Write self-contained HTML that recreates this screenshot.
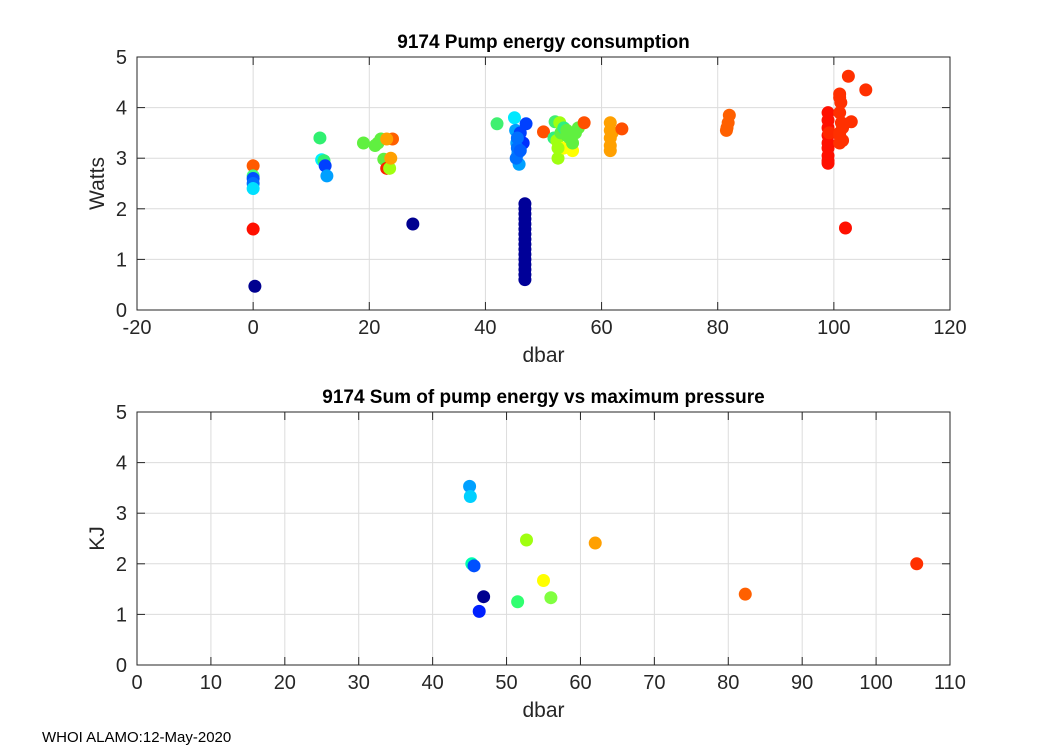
<!DOCTYPE html>
<html><head><meta charset="utf-8"><style>
body{margin:0;background:#fff;width:1050px;height:750px;overflow:hidden;font-family:"Liberation Sans",sans-serif}
svg text{font-family:"Liberation Sans",sans-serif}
</style></head><body>
<svg id="s" width="1050" height="750">
<text x="42" y="742" font-size="15">WHOI ALAMO:12-May-2020</text>
</svg>
<script>
// Top chart data
const topX = [0,0,0,0,0,0,0.3,11.5,11.8,12.2,12.4,12.7,19,21,21.5,22,22.5,23,23.5,24,23,23.7,27.5,42,45,45.2,45.4,45.6,45.8,45.3,46,46.5,47,45.5,45.5,46,50,52,51.8,52.3,52.5,52.8,53,53.5,54,54.5,55,55.5,56,57,52.5,53.5,55,54,61.5,61.5,61.5,61.5,61.5,61.8,63.5,81.5,81.8,82,81.6,99,99,99,99,99,99,99,99,99,99.2,101,101.2,101,101.3,101,101.5,101,101,102.5,105.5,103,102,101.5,101];
const topY = [2.85,2.65,2.6,2.5,2.4,1.6,0.47,3.4,2.97,2.95,2.85,2.65,3.3,3.25,3.3,3.38,2.98,2.8,2.8,3.38,3.38,3.0,1.7,3.68,3.8,3.55,3.3,3.1,2.88,3.0,3.5,3.3,3.68,3.4,3.2,3.15,3.52,3.72,3.4,3.35,3.0,3.7,3.5,3.2,3.45,3.4,3.15,3.5,3.6,3.7,3.2,3.6,3.3,3.55,3.7,3.55,3.4,3.25,3.15,3.5,3.58,3.55,3.7,3.85,3.6,3.9,3.75,3.6,3.45,3.3,3.2,3.05,2.95,2.9,3.5,4.2,4.1,3.9,3.7,3.5,3.35,3.3,4.27,4.62,4.35,3.72,1.62,3.6,3.45];
const topC = ["#ff5a00","#40ff80","#0050ff","#0070ff","#00e0ff","#ff1000","#000090","#30f070","#00f0ff","#30f070","#0040ff","#00a0ff","#60f040","#60f040","#60f040","#60f040","#60f040","#ff2000","#a0ff10","#ff6000","#ffa000","#ffa000","#000090","#40f070","#00e8ff","#00a0ff","#00a0ff","#00a0ff","#00a0ff","#0070ff","#0040ff","#0030ff","#0040ff","#0070ff","#0070ff","#0060ff","#ff5000","#40f070","#30f080","#a0ff10","#a0ff10","#a0ff10","#60f040","#ffff00","#60f040","#60f040","#ffff00","#60f040","#60f040","#ff5000","#a0ff10","#30f080","#60f040","#60f040","#ffa000","#ffa000","#ffa000","#ffa000","#ffa000","#ffa000","#ff5000","#ff6000","#ff6000","#ff6000","#ff6000","#ff1000","#ff1000","#ff1000","#ff1000","#ff1000","#ff1000","#ff1000","#ff1000","#ff1000","#ff2800","#ff3000","#ff3000","#ff3000","#ff3000","#ff3000","#ff3000","#ff3000","#ff3000","#ff3000","#ff3000","#ff3000","#ff1000","#ff3000","#ff3000"];
const navyY = [2.1,2.0,1.9,1.8,1.7,1.6,1.5,1.4,1.3,1.2,1.1,1.0,0.9,0.8,0.7,0.6];
const navyX = 46.8;
// Bottom chart data
const botX = [45,45.1,45.3,45.6,46.9,46.3,51.5,52.7,55,56,62,82.3,105.5];
const botY = [3.53,3.33,2.0,1.96,1.35,1.06,1.25,2.47,1.67,1.33,2.41,1.4,2.0];
const botC = ["#00a0ff","#00d0ff","#00ffb0","#0050ff","#000090","#0020ff","#30ff70","#a0ff10","#ffff00","#80ff40","#ffa000","#ff6000","#ff3000"];
const topTicksX = [-20,0,20,40,60,80,100,120];
const botTicksX = [0,10,20,30,40,50,60,70,80,90,100,110];
const ticksY = [0,1,2,3,4,5];

const S=document.getElementById('s'), NS='http://www.w3.org/2000/svg';
function mk(t,a,p){const e=document.createElementNS(NS,t);for(const k in a)e.setAttribute(k,a[k]);(p||S).appendChild(e);return e;}
function axes(cfg){
  const {L,R,T,B,xmin,xmax,xt,title,ylab,name}=cfg;
  const g=mk('g',{});
  
  
  const sx=v=>L+(v-xmin)/(xmax-xmin)*(R-L), sy=v=>B-v/5*(B-T);
  for(const v of xt){const x=sx(v);
    const gl=mk('line',{x1:x,x2:x,y1:T,y2:B,stroke:'#dcdcdc'},g);
    
    
    mk('line',{x1:x,x2:x,y1:B,y2:B-8,stroke:'#262626'},g);mk('line',{x1:x,x2:x,y1:T,y2:T+8,stroke:'#262626'},g);
    const t=mk('text',{x:x,y:B+24,'font-size':20,'text-anchor':'middle',fill:'#262626'},g);t.textContent=v;
    
    }
  for(const v of ticksY){const y=sy(v);
    const gl=mk('line',{x1:L,x2:R,y1:y,y2:y,stroke:'#dcdcdc'},g);
    
    
    mk('line',{x1:L,x2:L+8,y1:y,y2:y,stroke:'#262626'},g);mk('line',{x1:R,x2:R-8,y1:y,y2:y,stroke:'#262626'},g);
    const t=mk('text',{x:L-10,y:y+7,'font-size':20,'text-anchor':'end',fill:'#262626'},g);t.textContent=v;
    
    }
  const tt=mk('text',{x:(L+R)/2,y:T-9,'font-size':19,'font-weight':'bold','text-anchor':'middle',fill:'#000'},g);tt.textContent=title;
  
  
  const xl=mk('text',{x:(L+R)/2,y:B+52,'font-size':21,'text-anchor':'middle',fill:'#262626'},g);xl.textContent='dbar';
  
  
  const yl=mk('text',{x:0,y:0,'font-size':21,'text-anchor':'middle',fill:'#262626',transform:`translate(${L-33},${(T+B)/2}) rotate(-90)`},g);yl.textContent=ylab;
  
  
  return {g,sx,sy,box:()=>mk('rect',{x:L,y:T,width:R-L,height:B-T,fill:'none',stroke:'#262626'},g)};
}
const A=axes({L:137,R:950,T:57,B:310,xmin:-20,xmax:120,xt:topTicksX,title:'9174 Pump energy consumption',ylab:'Watts',name:'top-chart'});
for(let i=0;i<topX.length;i++){const c=mk('circle',{cx:A.sx(topX[i]),cy:A.sy(topY[i]),r:6.5,fill:topC[i]},A.g);
  
  }
for(const v of navyY){const c=mk('circle',{cx:A.sx(navyX),cy:A.sy(v),r:6.5,fill:'#000098'},A.g);
  
  }
A.box();
const B2=axes({L:137,R:950,T:412,B:665,xmin:0,xmax:110,xt:botTicksX,title:'9174 Sum of pump energy vs maximum pressure',ylab:'KJ',name:'bottom-chart'});
for(let i=0;i<botX.length;i++){const c=mk('circle',{cx:B2.sx(botX[i]),cy:B2.sy(botY[i]),r:6.5,fill:botC[i]},B2.g);
  
  }
B2.box();
</script>
</body></html>
